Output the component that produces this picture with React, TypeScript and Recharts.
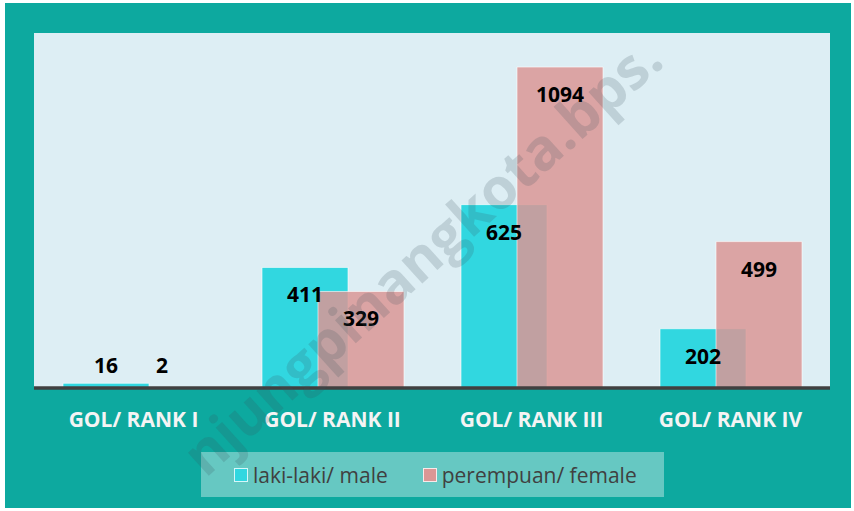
import { BarChart, Bar, XAxis, YAxis, CartesianGrid, Legend, LabelList } from "recharts";

const categories = ["GOL/ RANK I", "GOL/ RANK II", "GOL/ RANK III", "GOL/ RANK IV"];
const maleValues = [16, 411, 625, 202];
const femaleValues = [2, 329, 1094, 499];
const seriesNames = ["laki-laki/ male", "perempuan/ female"];
const watermark = "njungpinangkota.bps.";

const MALE = "#31d7e0";
const FEMALE = "rgb(218,151,149)";
const FONT = "'Open Sans', sans-serif";

const data = categories.map((name, i) => ({
  name,
  male: maleValues[i],
  female: femaleValues[i],
}));

const renderLabel = (props: any) => {
  const vb = props.viewBox ?? props;
  const x = Number(vb.x);
  const y = Number(vb.y);
  const w = Number(vb.width);
  const h = Number(vb.height);
  const cy = Math.min(y + 27, y + h - 23);
  return (
    <text
      x={x + w / 2}
      y={cy}
      textAnchor="middle"
      dominantBaseline="central"
      fontFamily={FONT}
      fontWeight={700}
      fontSize={21}
      fill="#000"
    >
      {props.value}
    </text>
  );
};

const renderTick = (props: any) => {
  const { x, y, payload } = props;
  return (
    <text
      x={x}
      y={y + 31}
      textAnchor="middle"
      fontFamily={FONT}
      fontWeight={700}
      fontSize={21}
      fill="#f4f4f4"
    >
      {payload.value}
    </text>
  );
};

const renderLegend = () => {
  const colors = [MALE, FEMALE];
  return (
    <div
      style={{
        width: 463,
        height: 45,
        background: "rgba(255,255,255,0.37)",
        display: "flex",
        alignItems: "center",
        fontFamily: FONT,
        fontSize: 21,
        color: "#404040",
      }}
    >
      {seriesNames.map((n, i) => (
        <div key={n} style={{ display: "flex", alignItems: "center", marginLeft: i === 0 ? 33 : 35 }}>
          <span
            style={{
              width: 12,
              height: 12,
              background: colors[i],
              border: "1.5px solid rgba(255,255,255,0.8)",
              marginRight: 5,
              display: "inline-block",
            }}
          />
          <span>{n}</span>
        </div>
      ))}
    </div>
  );
};

export default function App() {
  return (
    <div style={{ position: "absolute", left: 0, top: 0, width: 854, height: 511, background: "#fff" }}>
      <div
        style={{ position: "absolute", left: 5, top: 3, width: 846, height: 505, background: "#0da99f" }}
      />
      <div style={{ position: "absolute", left: 0, top: 0 }}>
        <BarChart
          width={854}
          height={511}
          data={data}
          barSize={86}
          barGap={-30}
          margin={{ top: 33, right: 24, left: 34, bottom: 83 }}
        >
          <CartesianGrid fill="#ddeef4" horizontal={false} vertical={false} />
          <YAxis hide domain={[0, 1210]} />
          <XAxis
            dataKey="name"
            height={40}
            tickLine={false}
            axisLine={{ stroke: "#404040", strokeWidth: 3.5 }}
            tick={renderTick}
            interval={0}
          />
          <Legend
            layout="horizontal"
            verticalAlign="middle"
            align="center"
            content={renderLegend}
            wrapperStyle={{ left: 201, top: 452, width: 463, height: 45 }}
          />
          <Bar dataKey="male" fill={MALE} stroke="#ffffff" strokeOpacity={0.6} strokeWidth={1} isAnimationActive={false}>
            <LabelList dataKey="male" content={renderLabel} />
          </Bar>
          <Bar
            dataKey="female"
            fill={FEMALE}
            fillOpacity={0.85}
            stroke="#ffffff"
            strokeOpacity={0.6}
            strokeWidth={1}
            isAnimationActive={false}
          >
            <LabelList dataKey="female" content={renderLabel} />
          </Bar>
        </BarChart>
      </div>
      <svg
        width={854}
        height={511}
        style={{ position: "absolute", left: 0, top: 0, pointerEvents: "none" }}
      >
        <g transform="translate(666 64) rotate(-42)">
          <text
            x={0}
            y={0}
            textAnchor="end"
            fontFamily={FONT}
            fontWeight={700}
            fontSize={57}
            fill="rgba(60,80,90,0.19)"
          >
            {watermark}
          </text>
        </g>
      </svg>
    </div>
  );
}
